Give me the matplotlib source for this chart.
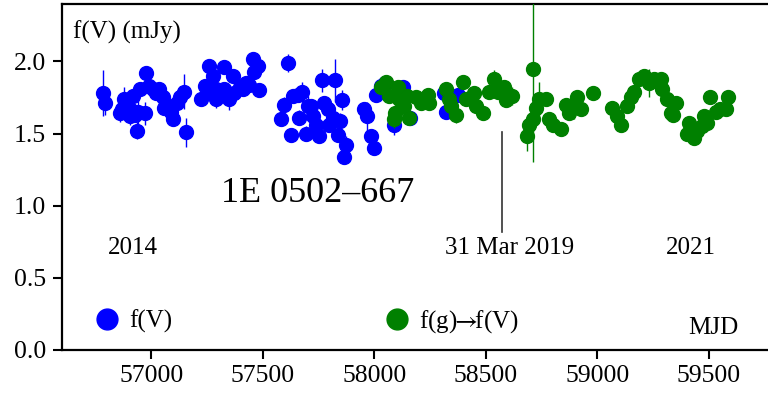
import matplotlib
matplotlib.use("Agg")
import matplotlib.pyplot as plt
from matplotlib.lines import Line2D
import numpy as np

plt.rcParams['font.family'] = ['Liberation Serif', 'STIXGeneral', 'DejaVu Serif']
plt.rcParams['mathtext.fontset'] = 'stix'

# ---- data: f(V) (blue) ----
v_mjd = [56786, 56794, 56862, 56870, 56880, 56888, 56903, 56910, 56918, 56926,
         56936, 56940, 56952, 56970, 56978, 56992, 57008, 57022, 57037, 57052,
         57056, 57075, 57090, 57097, 57116, 57131, 57149, 57157,
         57224, 57242, 57261, 57266, 57276, 57290, 57291, 57306, 57326, 57328,
         57350, 57351, 57366, 57373, 57396, 57411, 57426, 57440, 57456, 57463,
         57478, 57485,
         57583, 57595, 57615, 57627, 57635, 57657, 57665, 57675, 57694, 57702,
         57717, 57724, 57739, 57754, 57765, 57776, 57792, 57799, 57814, 57824,
         57836, 57848, 57856, 57866, 57875,
         57956, 57968, 57986, 57998, 58008, 58030, 58050, 58090, 58128, 58160,
         58314, 58322, 58374]
v_flux = [1.78, 1.71, 1.64, 1.67, 1.74, 1.69, 1.62, 1.66, 1.76, 1.63,
          1.52, 1.65, 1.81, 1.64, 1.92, 1.83, 1.81, 1.78, 1.81, 1.75,
          1.68, 1.69, 1.65, 1.60, 1.71, 1.75, 1.79, 1.51,
          1.74, 1.83, 1.97, 1.78, 1.90, 1.74, 1.81, 1.77, 1.96, 1.81,
          1.74, 1.77, 1.90, 1.78, 1.82, 1.81, 1.85, 1.84, 2.02, 1.93,
          1.97, 1.80,
          1.60, 1.70, 1.99, 1.49, 1.76, 1.77, 1.61, 1.79, 1.50, 1.69,
          1.69, 1.62, 1.56, 1.48, 1.87, 1.71, 1.67, 1.56, 1.61, 1.87,
          1.49, 1.59, 1.73, 1.34, 1.42,
          1.67, 1.62, 1.48, 1.40, 1.77, 1.83, 1.85, 1.56, 1.82, 1.61,
          1.78, 1.65, 1.77]
v_err = [0.16, 0.08, 0.06, 0.05, 0.08, 0.05, 0.06, 0.05, 0.05, 0.05,
         0.06, 0.10, 0.05, 0.08, 0.04, 0.04, 0.04, 0.04, 0.04, 0.04,
         0.05, 0.05, 0.05, 0.05, 0.05, 0.08, 0.12, 0.10,
         0.04, 0.04, 0.05, 0.05, 0.04, 0.06, 0.08, 0.04, 0.05, 0.05,
         0.08, 0.06, 0.04, 0.05, 0.04, 0.04, 0.04, 0.04, 0.04, 0.04,
         0.04, 0.04,
         0.05, 0.05, 0.06, 0.05, 0.05, 0.05, 0.05, 0.07, 0.05, 0.07,
         0.05, 0.05, 0.05, 0.04, 0.08, 0.05, 0.05, 0.05, 0.05, 0.15,
         0.05, 0.05, 0.07, 0.05, 0.06,
         0.05, 0.10, 0.05, 0.05, 0.05, 0.04, 0.04, 0.07, 0.04, 0.05,
         0.04, 0.05, 0.04]

# ---- data: f(g) -> f(V) (green) ----
g_mjd = [58030, 58053, 58068, 58090, 58095, 58105, 58112, 58134, 58149, 58157,
         58187, 58210, 58240, 58247, 58322, 58336, 58344, 58366, 58396, 58411,
         58448, 58456, 58486, 58516, 58538, 58553, 58583, 58590, 58620,
         58687, 58695, 58710, 58714, 58725, 58740, 58770, 58784, 58800, 58837,
         58859, 58874, 58896, 58908, 58926, 58979,
         59068, 59090, 59106, 59135, 59150, 59165, 59187, 59210, 59232, 59255,
         59284, 59292, 59314, 59330, 59340, 59352, 59404, 59411, 59434, 59449,
         59471, 59478, 59494, 59505, 59532, 59552, 59576, 59588]
g_flux = [1.82, 1.86, 1.76, 1.60, 1.64, 1.82, 1.74, 1.69, 1.76, 1.61,
          1.75, 1.71, 1.77, 1.71, 1.81, 1.74, 1.69, 1.63, 1.86, 1.74,
          1.78, 1.69, 1.64, 1.79, 1.88, 1.79, 1.82, 1.73, 1.76,
          1.48, 1.56, 1.60, 1.95, 1.68, 1.74, 1.74, 1.60, 1.56, 1.53,
          1.70, 1.64, 1.69, 1.75, 1.67, 1.78,
          1.68, 1.62, 1.56, 1.69, 1.75, 1.79, 1.88, 1.90, 1.85, 1.88,
          1.88, 1.81, 1.74, 1.64, 1.63, 1.71, 1.50, 1.57, 1.47, 1.52,
          1.55, 1.62, 1.57, 1.75, 1.65, 1.67, 1.67, 1.75]
g_err = [0.02, 0.02, 0.02, 0.06, 0.02, 0.02, 0.02, 0.02, 0.02, 0.02,
         0.02, 0.02, 0.02, 0.02, 0.02, 0.02, 0.02, 0.06, 0.02, 0.02,
         0.02, 0.02, 0.02, 0.03, 0.06, 0.02, 0.02, 0.02, 0.06,
         0.10, 0.02, 0.02, 0.65, 0.02, 0.12, 0.02, 0.02, 0.02, 0.02,
         0.02, 0.02, 0.09, 0.02, 0.02, 0.02,
         0.02, 0.07, 0.02, 0.02, 0.02, 0.02, 0.02, 0.02, 0.10, 0.02,
         0.02, 0.02, 0.02, 0.02, 0.02, 0.05, 0.02, 0.02, 0.02, 0.02,
         0.02, 0.02, 0.02, 0.02, 0.02, 0.02, 0.02, 0.02]

x_ticks = [57000, 57500, 58000, 58500, 59000, 59500]
y_ticks = [0.0, 0.5, 1.0, 1.5, 2.0]

fig = plt.figure(figsize=(7.68, 3.98), dpi=100)
ax = fig.add_axes([62/768, 48/398, 713.6/768, 346.3/398])

ax.errorbar(v_mjd, v_flux, yerr=v_err, fmt='o', color='blue', ms=10,
            elinewidth=1.0, capsize=0, zorder=2)
ax.errorbar(g_mjd, g_flux, yerr=g_err, fmt='o', color='green', ms=10,
            elinewidth=1.0, capsize=0, zorder=3)

ax.set_xlim(56600, 59800)
ax.set_ylim(0, 2.4)
ax.set_xticks(x_ticks)
ax.set_yticks(y_ticks)
ax.set_yticklabels([f"{t:.1f}" for t in y_ticks])
ax.tick_params(direction='out', length=6.5, width=1.5, labelsize=18.5)
ax.tick_params(axis='x', pad=4)
ax.tick_params(axis='y', pad=5)
for s in ax.spines.values():
    s.set_linewidth(1.6)

# annotations
ax.text(56649, 2.204, "f(V) (mJy)", fontsize=18, ha='left', va='center')
ax.text(57748, 1.088, "1E 0502\u2013667", fontsize=26, ha='center', va='center')
ax.text(56918, 0.707, "2014", fontsize=18, ha='center', va='center')
ax.text(58609, 0.707, "31 Mar 2019", fontsize=18, ha='center', va='center')
ax.text(59420, 0.707, "2021", fontsize=18, ha='center', va='center')
ax.text(59523, 0.152, "MJD", fontsize=18, ha='center', va='center')
ax.plot([58573, 58573], [0.82, 1.51], color='#333333', lw=1.2)

handles = [Line2D([], [], marker='o', ls='none', color='blue', ms=15),
           Line2D([], [], marker='o', ls='none', color='green', ms=15)]
ax.legend(handles, ["f(V)", "f(g)$\\!\\!\\rightarrow\\!\\!$f(V)"], ncol=2,
          frameon=False, loc='center left', bbox_to_anchor=(0.0455, 0.081),
          fontsize=18, handlelength=1.0, handletextpad=0.38, columnspacing=8.5,
          borderpad=0, borderaxespad=0)

fig.savefig("out.png", dpi=100)
